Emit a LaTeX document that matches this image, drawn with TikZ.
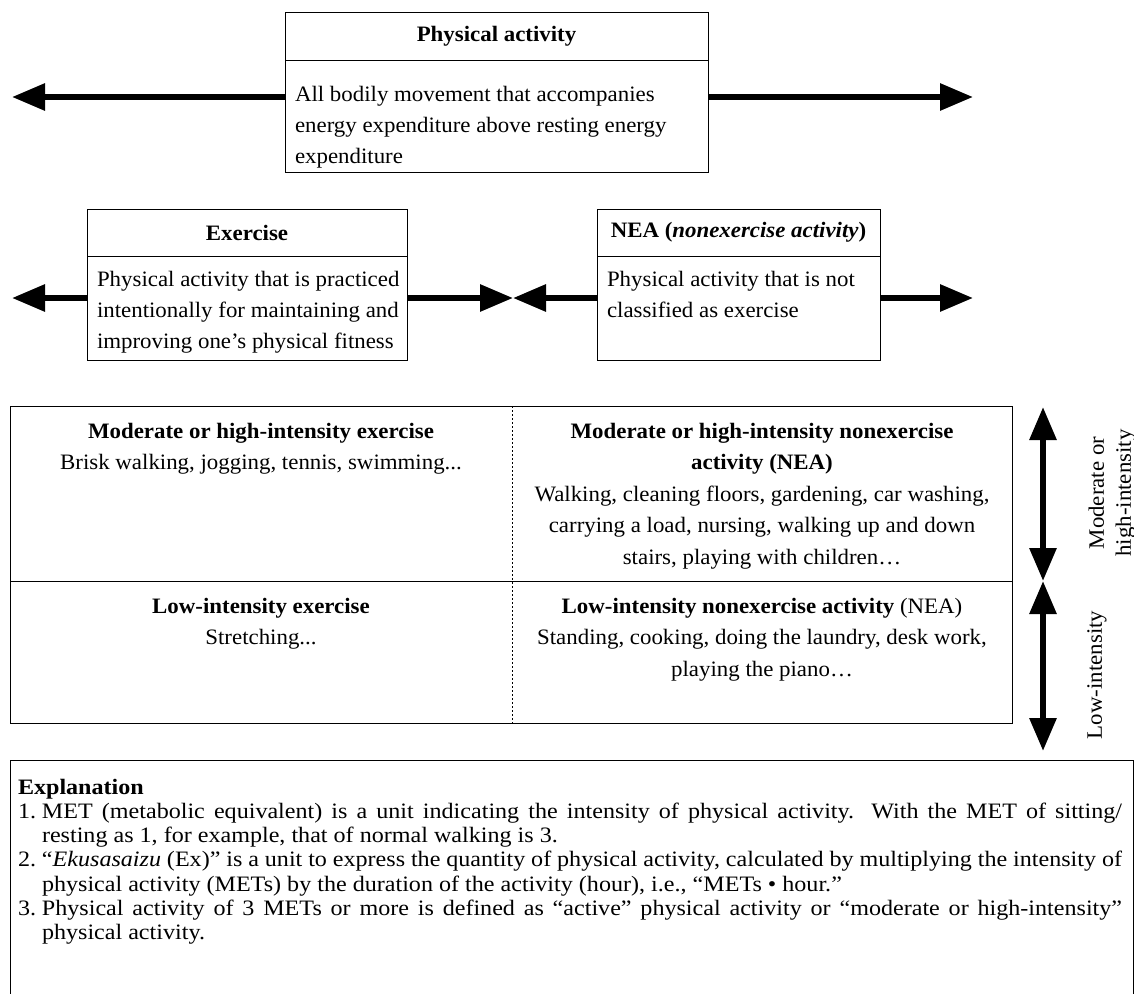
\documentclass[tikz,border=0pt]{standalone}
\usepackage{fontspec}
\setmainfont{Liberation Serif}[FakeStretch=1.04]
\newfontfamily\explfont{Liberation Serif}[FakeStretch=1.095]
\usetikzlibrary{arrows.meta}
\begin{document}
\begin{tikzpicture}[x=1pt,y=-1pt,
  every node/.style={inner sep=0pt, outer sep=0pt},
  boxline/.style={draw=black, line width=1pt},
  ttl/.style={font=\fontsize{22}{31}\selectfont\bfseries},
  body/.style={font=\fontsize{22}{31}\selectfont, align=left},
  cell/.style={font=\fontsize{22}{31.5}\selectfont, align=center, anchor=north},
  expl/.style={font=\explfont\fontsize{22}{24.3}\selectfont, align=justify, text width=1104pt, anchor=north west},
  fat/.style={line width=6pt, draw=black},
  ar/.style={fat, -{Triangle[length=33pt,width=26pt]}},
  dar/.style={fat, {Triangle[length=33pt,width=26pt]}-{Triangle[length=33pt,width=26pt]}},
  lbl/.style={font=\fontsize{22}{27}\selectfont, align=center, rotate=90},
]
\useasboundingbox (0,0) rectangle (1134,993);

% ---------- Physical activity ----------
\node[boxline, ttl, minimum width=423pt, minimum height=48pt, anchor=north west] (pah) at (285,12) {Physical activity};
\node[boxline, minimum width=423pt, minimum height=112pt, anchor=north west] (pab) at (285,60) {};
\node[body, anchor=north west] (pat) at (295,80) {\strut All bodily movement that accompanies\\energy expenditure above resting energy\\expenditure};
\coordinate (paL) at (12,97);
\coordinate (paR) at (973,97);
\draw[ar] (pab.west |- paL) -- (paL);
\draw[ar] (pab.east |- paR) -- (paR);

% ---------- Exercise ----------
\node[boxline, ttl, minimum width=320pt, minimum height=47pt, anchor=north west] (exh) at (87,209) {Exercise};
\node[boxline, minimum width=320pt, minimum height=104pt, anchor=north west] (exb) at (87,256) {};
\node[body, anchor=north west] (ext) at (97,265) {\strut Physical activity that is practiced\\intentionally for maintaining and\\improving one’s physical fitness};

% ---------- NEA ----------
\node[boxline, ttl, minimum width=283pt, minimum height=47pt, anchor=north west] (neh) at (597,209) {NEA (\textit{nonexercise activity})};
\node[boxline, minimum width=283pt, minimum height=104pt, anchor=north west] (neb) at (597,256) {};
\node[body, anchor=north west] (net) at (607,265) {\strut Physical activity that is not\\classified as exercise};

\coordinate (exL) at (12,298);
\coordinate (mid) at (513,298);
\coordinate (neR) at (973,298);
\draw[ar] (exb.west |- exL) -- (exL);
\draw[ar] (exb.east |- mid) -- (mid);
\draw[ar] (neb.west |- mid) -- (mid);
\draw[ar] (neb.east |- neR) -- (neR);

% ---------- Table ----------
\node[boxline, minimum width=1002pt, minimum height=317pt, anchor=north west] (tbl) at (10,406) {};
\draw[line width=0.9pt] (tbl.west |- 0,581) -- (tbl.east |- 0,581);
\draw[line width=0.6pt, dash pattern=on 2pt off 2pt] (tbl.north -| 512,0) -- (tbl.south -| 512,0);

\node[cell] (c11) at (261,416) {\strut\textbf{Moderate or high-intensity exercise}\\Brisk walking, jogging, tennis, swimming...};
\node[cell] (c12) at (762,416) {\strut\textbf{Moderate or high-intensity nonexercise}\\\textbf{activity (NEA)}\\Walking, cleaning floors, gardening, car washing,\\carrying a load, nursing, walking up and down\\stairs, playing with children…};
\node[cell] (c21) at (261,591) {\strut\textbf{Low-intensity exercise}\\Stretching...};
\node[cell] (c22) at (762,591) {\strut\textbf{Low-intensity nonexercise activity} (NEA)\\Standing, cooking, doing the laundry, desk work,\\playing the piano…};

% ---------- Intensity arrows ----------
\coordinate (va1) at (1043,407);
\coordinate (va2) at (1043,581);
\coordinate (va3) at (1043,751);
\draw[dar] (va1) -- (va2);
\draw[dar] (va2) -- (va3);
\node[lbl] (lmod) at (1112,493) {Moderate or\\high-intensity};
\node[lbl] (llow) at (1097,675) {Low-intensity};

% ---------- Explanation ----------
\draw[line width=1pt] (10,1000) -- (10,760) -- (1133,760) -- (1133,1000);
\node[expl] (ex) at (18,777) {\strut\textbf{Explanation}\par
\hangindent=24pt\hangafter=1\makebox[24pt][l]{1.}MET (metabolic equivalent) is a unit indicating the intensity of physical activity. With the MET of sitting/\linebreak resting as 1, for example, that of normal walking is 3.\par
\hangindent=24pt\hangafter=1\makebox[24pt][l]{2.}“\textit{Ekusasaizu} (Ex)” is a unit to express the quantity of physical activity, calculated by multiplying the intensity of\linebreak physical activity (METs) by the duration of the activity (hour), i.e., “METs • hour.”\par
\hangindent=24pt\hangafter=1\makebox[24pt][l]{3.}Physical activity of 3 METs or more is defined as “active” physical activity or “moderate or high-intensity”\linebreak physical activity.\par};
\end{tikzpicture}
\end{document}
